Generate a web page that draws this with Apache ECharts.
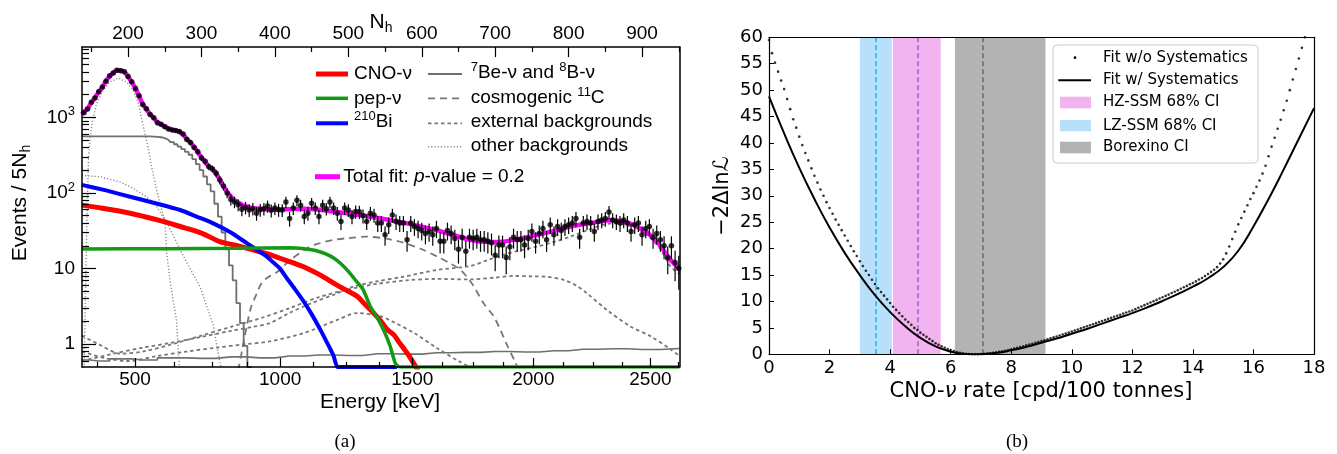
<!DOCTYPE html>
<html>
<head>
<meta charset="utf-8">
<title>Borexino CNO spectrum and likelihood</title>
<script src="https://cdn.jsdelivr.net/npm/echarts@6.0.0/dist/echarts.min.js"></script>
<style>
html,body{margin:0;padding:0;background:#ffffff;}
#chart{width:1337px;height:454px;}
</style>
</head>
<body>
<div id="chart"></div>
<script>
// ================= Panel (a): spectral fit =================
const energyTickLabels = [500, 1000, 1500, 2000, 2500];
const energyTickNh = [209.5, 407.2, 587.1, 752.0, 911.4];
const energyMinorNh = [158, 262.7, 314.1, 361.8, 451.7, 497.1, 542.5, 627.5, 669.8, 711.5, 793.3, 833.3, 872.8, 949.9];
const nhTickLabels = [200, 300, 400, 500, 600, 700, 800, 900];
const nhMinorTicks = [150, 250, 350, 450, 550, 650, 750, 850, 950];
const logMajorTicks = [1, 10, 100, 1000];
const logMinorTicks = [0.6,0.7,0.8,0.9,2,3,4,5,6,7,8,9,20,30,40,50,60,70,80,90,200,300,400,500,600,700,800,900,2000,3000,4000,5000,6000,7000,8000];

// data: events / 5 Nh, bins centred at Nh = 140, 145, ... 950
const dataVals = [
 1150,1290,1580,1800,2180,2520,3000,3550,3850,4200,
 4120,4000,3450,2950,2400,1920,1480,1300,1090,990,
 850,810,750,700,680,670,650,600,510,465,
 400,350,290,262,222,208,182,148,124,100,
 82,76,70,61,64,59.5,62,54,60,62,
 67,59,63,60,59.5,76,46,63,80,69,
 49,54,73,63,49,69,62,76,63,54,
 42,63,59.5,49,57,56.6,50,42,54,51,
 40,40,28,38,51,42,40,40,24,40,
 36,34,32,29,31,28,34,23,23,32,
 29,25,18,26,17,26,25,26,24,24,
 23,22,15,20.5,20.5,14,19.5,26,24,24,
 20.5,25,31,23,29,34,24,38,28,36,
 32,36,38,40,46,26,40,42,40,31,
 42,44,46,56,44,42,40,44,40,31,
 38,40,28,34,36,26,29,24,20,14,
 20,12,10
];
const errScale = 1.5;

const totalFit = [[137,1100],[140,1180],[145,1310],[150,1560],[155,1820],[160,2160],[165,2500],[170,3050],[175,3500],[180,3900],[185,4180],[190,4150],[195,3970],[200,3480],[205,2900],[210,2450],[215,1900],[220,1500],[225,1280],[230,1100],[235,980],[240,860],[245,800],[250,760],[255,715],[260,685],[265,665],[270,640],[275,590],[280,520],[285,460],[290,410],[295,345],[300,295],[305,255],[310,225],[315,205],[320,180],[325,150],[330,122],[335,103],[340,90],[345,80],[350,75],[355,70],[360,67],[370,63],[380,62],[393,60],[420,61],[440,62],[460,60],[490,55],[530,48.5],[575,40.5],[621,32],[666,24],[690,22.5],[711,22.7],[735,25],[757,27.8],[780,31.5],[802,35.8],[830,40],[857,43.5],[880,40.5],[900,33],[911,27.8],[925,20],[939,13],[951,10]];

const cnoNu = [[137,69],[160,64],[203,54],[240,44],[271,36],[300,29.5],[325,22.7],[350,20],[371,17.6],[390,15.6],[407,13.7],[425,11.9],[439,10.6],[462,8.2],[484,6.1],[500,5.0],[512,4.3],[521,3.5],[530,2.85],[543,2.1],[552,1.6],[562,1.33],[568,1.1],[575,0.89],[582,0.72],[589,0.56],[595,0.45]];
const pepNu = [[137,18.2],[250,18.3],[350,18.6],[420,18.8],[440,18.3],[450,17.7],[460,16.8],[470,15.5],[480,13.8],[490,11.6],[500,9.2],[510,7],[520,5.3],[530,3.15],[540,2.2],[550,1.4],[557,0.94],[564,0.56],[570,0.3],[580,0.05],[951,0.01]];
const bi210 = [[137,128],[170,108],[203,89],[240,72],[271,59.5],[295,48],[316,39.6],[340,30],[362,21.6],[376,17.5],[389,14.4],[398,12],[407,10],[416,7.5],[427,5.4],[439,3.7],[450,2.5],[462,1.55],[471,1.05],[480,0.7],[485,0.5],[490,0.3],[500,0.05],[566,0.01]];
const be7Nu = [[137,560],[180,560],[220,558],[240,552],[245,545],[250,530],[255,505],[260,470],[265,440],[270,410],[275,380],[280,350],[285,320],[290,280],[295,240],[300,200],[305,165],[310,130],[315,105],[320,72],[325,48.5],[330,30],[335,18],[340,11],[345,7],[350,3.5],[355,1.9],[360,0.95],[365,0.5],[370,0.4]];
const b8Nu = [[137,0.62],[160,0.6],[190,0.64],[220,0.62],[260,0.66],[300,0.65],[340,0.68],[380,0.66],[420,0.7],[460,0.72],[500,0.71],[540,0.75],[580,0.74],[620,0.77],[660,0.78],[700,0.8],[740,0.79],[780,0.82],[820,0.86],[860,0.87],[900,0.85],[951,0.88]];
const c11 = [[350,0.45],[356,0.9],[362,1.8],[368,3.2],[375,4.6],[382,6.5],[390,7.6],[403,9],[421,13],[444,18.6],[460,21.5],[480,23.9],[500,25.3],[525,26.4],[550,25],[575,22],[600,18],[621,14.4],[640,11.5],[653,9.6],[665,7],[671,5.8],[684,3.5],[698,2.33],[707,1.55],[716,0.98],[727,0.59],[732,0.45]];
const extTl = [[137,0.6],[180,0.75],[220,0.9],[260,1.05],[300,1.25],[340,1.5],[370,1.7],[393,1.9],[420,2.6],[450,3.5],[480,4.5],[507,5.8],[540,6.8],[575,7.8],[621,9.6],[666,10.8],[690,13],[711,15.2],[735,17.5],[757,19.5],[780,22.5],[802,26.4],[825,32],[847,38],[861,39.6],[875,38],[893,34],[910,26],[925,18],[939,10.6],[951,8.5]];
const extBi = [[137,1.3],[160,1.0],[190,0.75],[220,0.8],[260,1.0],[300,1.3],[340,1.7],[380,2.2],[420,3.0],[460,4.2],[500,5.3],[540,6.3],[580,7.0],[620,7.3],[666,7.2],[700,7.6],[725,8.0],[750,7.9],[770,7.8],[793,7.1],[810,6],[825,4.7],[852,2.85],[884,1.72],[912,1.27],[939,0.85],[951,0.7]];
const extK = [[137,0.8],[170,0.65],[200,0.6],[240,0.7],[280,0.8],[320,0.9],[360,1.0],[393,1.09],[439,1.4],[485,2.1],[512,2.58],[544,2.33],[560,2.0],[590,1.4],[620,0.9],[650,0.6],[680,0.42]];
const po210 = [[140,0.4],[142,5],[143.7,30],[146,270],[148,500],[151,830],[157,1500],[166,2280],[175,2930],[187,3300],[198,2930],[207,2280],[214,1530],[219,910],[223,610],[228,370],[232,222],[239,109],[244,70],[248,50],[250.3,44],[252.7,16],[257,7.1],[262,3.5],[266,2.1],[268.6,0.77],[271,0.4]];
const kr85 = [[137,170],[162,164],[189,140],[207,115],[225,89],[239,66],[253,40],[262,27],[272,17],[280,12],[287,9],[298,5.8],[307,3.2],[316,1.8],[321,0.94],[325,0.6],[328,0.42]];

// ================= Panel (b): likelihood profile =================
const fitNoSyst = [
 59.5,57.0,55.2,53.5,51.8,50.2,48.3,46.4,44.5,42.9,
 41.2,39.6,38.1,36.7,35.2,33.8,32.5,31.2,30.0,28.8,
 27.7,26.6,25.5,24.5,23.5,22.5,21.5,20.5,19.5,18.6,
 17.6,16.7,15.8,15.0,14.1,13.3,12.5,11.8,11.1,10.4,
 9.7,9.0,8.4,7.8,7.2,6.6,6.1,5.6,5.0,4.6,
 4.1,3.7,3.3,2.9,2.5,2.1,1.8,1.5,1.25,1.0,
 0.8,0.6,0.42,0.3,0.2,0.1,0.05,0.02,0.0,0.02,
 0.05,0.08,0.12,0.2,0.28,0.37,0.46,0.56,0.68,0.8,
 0.93,1.08,1.22,1.38,1.53,1.68,1.84,2.0,2.16,2.32,
 2.5,2.67,2.85,3.02,3.2,3.38,3.56,3.74,3.92,4.1,
 4.3,4.5,4.7,4.9,5.1,5.3,5.5,5.7,5.9,6.1,
 6.3,6.5,6.7,6.9,7.1,7.3,7.5,7.7,7.9,8.1,
 8.3,8.55,8.8,9.05,9.3,9.55,9.8,10.05,10.3,10.55,
 10.8,11.05,11.3,11.6,11.85,12.1,12.4,12.7,12.95,13.25,
 13.5,13.8,14.15,14.45,14.8,15.2,15.6,16.0,16.5,17.2,
 18.0,19.1,20.4,21.8,23.2,24.6,25.8,27.0,28.2,29.4,
 30.5,31.7,32.9,34.2,35.7,37.5,39.3,41.0,42.7,44.4,
 46.2,48.0,50.0,52.0,54.0,56.0,58.0,60.0
];
const scanStep = 0.1;
const rateKnots = [0,0.5,1,1.5,2,2.5,3,3.5,4,4.5,5,5.5,6,6.5,6.8,7,7.5,8,8.5,9,9.5,10,10.5,11,11.5,12,12.5,13,13.5,14,14.5,15,15.5,16,16.5,17,17.5,18];
const fitSyst = [48.8,41.8,35.3,29.4,24,19.2,15,11.2,8,5.3,3.1,1.5,0.5,0.06,0,0.03,0.25,0.75,1.4,2.2,3.0,3.9,4.8,5.8,6.8,7.8,8.9,10.1,11.4,12.8,14.4,16.5,19.6,24.2,29.4,35,40.8,46.6];
const bandLZ = [3.0, 4.06], lzCentral = 3.52;
const bandHZ = [4.09, 5.67], hzCentral = 4.9;
const bandBX = [6.14, 9.13], bxCentral = 7.06;

// ================= build =================
const FA = '"Liberation Sans", Arial, Helvetica, sans-serif';
const FD = '"DejaVu Sans", sans-serif';
const FS = '"Liberation Serif", "Times New Roman", serif';
const nhMin = 137.3, nhMax = 951;
const yMin = 0.5, yMax = 8500;

const dataNh = dataVals.map((_, i) => 140 + 5 * i);
const dataPts = dataVals.map((v, i) => [dataNh[i], v]);
const errBars = dataVals.map((v, i) => {
  const e = errScale * Math.sqrt(v);
  return [dataNh[i], Math.max(v - e, 0.01), v + e];
});
const noSystPts = fitNoSyst.map((v, i) => [Math.round(i * scanStep * 10) / 10, v]);
const systPts = fitSyst.map((v, i) => [rateKnots[i], v]);
// like the original histogram drawing, contents below the axis minimum are drawn on the floor
const floorAt = arr => arr.map(p => [p[0], Math.max(p[1], yMin)]);

function nearestLabel(v) {
  let best = 0, bd = Infinity;
  energyTickNh.forEach((t, i) => { const d = Math.abs(t - v); if (d < bd) { bd = d; best = i; } });
  return String(energyTickLabels[best]);
}

function comp(name, data, color, width, dash, z, step, smooth) {
  return {
    name, type: 'line', xAxisIndex: 0, yAxisIndex: 0, data,
    showSymbol: false, symbol: 'none', step: step || false, smooth: smooth || false, z: z || 2,
    lineStyle: { color, width, type: dash || 'solid', cap: 'butt' },
    clip: true, silent: true
  };
}

const black = '#000';
const grayS = '#6f6f6f', grayD = '#777777', grayO = '#8a8a8a';

const option = {
  animation: false,
  backgroundColor: '#ffffff',
  grid: [
    { left: 82, top: 47, right: 657.5, bottom: 87, containLabel: false },
    { left: 769, top: 37.3, right: 23, bottom: 99.7, containLabel: false }
  ],
  xAxis: [
    { gridIndex: 0, type: 'value', min: nhMin, max: nhMax, position: 'bottom', z: 10,
      axisLine: { show: true, onZero: false, lineStyle: { color: black, width: 1.5 } },
      splitLine: { show: false },
      axisTick: { show: true, inside: true, length: 9, customValues: energyTickNh, lineStyle: { color: black, width: 1.2 } },
      axisLabel: { customValues: energyTickNh, formatter: nearestLabel, fontFamily: FA, fontSize: 19, color: black, margin: 3 } },
    { gridIndex: 0, type: 'value', min: nhMin, max: nhMax, position: 'bottom', z: 10,
      axisLine: { show: false }, splitLine: { show: false },
      axisTick: { show: true, inside: true, length: 5, customValues: energyMinorNh, lineStyle: { color: black, width: 1.2 } },
      axisLabel: { show: false } },
    { gridIndex: 0, type: 'value', min: nhMin, max: nhMax, position: 'top', z: 10,
      axisLine: { show: true, onZero: false, lineStyle: { color: black, width: 1.5 } },
      splitLine: { show: false },
      axisTick: { show: true, inside: true, length: 10, customValues: nhTickLabels, lineStyle: { color: black, width: 1.2 } },
      axisLabel: { customValues: nhTickLabels, formatter: v => String(Math.round(v)), fontFamily: FA, fontSize: 19, color: black, margin: 4 } },
    { gridIndex: 0, type: 'value', min: nhMin, max: nhMax, position: 'top', z: 10,
      axisLine: { show: false }, splitLine: { show: false },
      axisTick: { show: true, inside: true, length: 5, customValues: nhMinorTicks, lineStyle: { color: black, width: 1.2 } },
      axisLabel: { show: false } },
    { gridIndex: 1, type: 'value', min: 0, max: 18, interval: 2, position: 'bottom', z: 10,
      axisLine: { show: true, onZero: false, lineStyle: { color: black, width: 1.2 } },
      splitLine: { show: false },
      axisTick: { show: true, inside: true, length: 5, lineStyle: { color: black, width: 1 } },
      axisLabel: { fontFamily: FD, fontSize: 18, color: black, margin: 5 } },
    { gridIndex: 1, type: 'value', min: 0, max: 18, position: 'top', z: 10,
      axisLine: { show: true, onZero: false, lineStyle: { color: black, width: 1.2 } },
      splitLine: { show: false }, axisTick: { show: false }, axisLabel: { show: false } }
  ],
  yAxis: [
    { gridIndex: 0, type: 'log', logBase: 10, min: yMin, max: yMax, position: 'left', z: 10,
      axisLine: { show: true, onZero: false, lineStyle: { color: black, width: 1.5 } },
      splitLine: { show: false }, minorTick: { show: false },
      axisTick: { show: true, inside: true, length: 14, customValues: logMajorTicks, lineStyle: { color: black, width: 1.2 } },
      axisLabel: { customValues: logMajorTicks, fontFamily: FA, fontSize: 19, color: black, margin: 7, lineHeight: 24,
        formatter: v => { const p = Math.round(Math.log10(v)); return p >= 2 ? '10{sup|' + p + '}' : String(Math.round(v)); },
        rich: { sup: { fontFamily: FA, fontSize: 13, lineHeight: 12, verticalAlign: 'top', color: black } } } },
    { gridIndex: 0, type: 'log', logBase: 10, min: yMin, max: yMax, position: 'left', z: 10,
      axisLine: { show: false }, splitLine: { show: false },
      axisTick: { show: true, inside: true, length: 7, customValues: logMinorTicks, lineStyle: { color: black, width: 1.2 } },
      axisLabel: { show: false } },
    { gridIndex: 0, type: 'log', logBase: 10, min: yMin, max: yMax, position: 'right', z: 10,
      axisLine: { show: true, onZero: false, lineStyle: { color: black, width: 1.5 } },
      splitLine: { show: false }, axisTick: { show: false }, axisLabel: { show: false } },
    { gridIndex: 1, type: 'value', min: 0, max: 60, interval: 5, position: 'left', z: 10,
      axisLine: { show: true, onZero: false, lineStyle: { color: black, width: 1.2 } },
      splitLine: { show: false },
      axisTick: { show: true, inside: true, length: 5, lineStyle: { color: black, width: 1 } },
      axisLabel: { fontFamily: FD, fontSize: 18, color: black, margin: 6 } },
    { gridIndex: 1, type: 'value', min: 0, max: 60, position: 'right', z: 10,
      axisLine: { show: true, onZero: false, lineStyle: { color: black, width: 1.2 } },
      splitLine: { show: false }, axisTick: { show: false }, axisLabel: { show: false } }
  ],
  series: [
    comp('8B', b8Nu, grayS, 1.6, 'solid', 2, 'middle'),
    comp('ext Tl', extTl, grayD, 1.8, [3.5, 3], 2, false, 0.3),
    comp('ext Bi', extBi, grayD, 1.8, [3.5, 3], 2, false, 0.3),
    comp('ext K', extK, grayD, 1.8, [3.5, 3], 2, false, 0.3),
    comp('11C', c11, grayD, 1.8, [7, 5], 2, false, 0.3),
    comp('210Po', po210, grayO, 1.4, [1.2, 2], 2),
    comp('85Kr', kr85, grayO, 1.4, [1.2, 2], 2),
    comp('7Be', be7Nu, grayS, 1.8, 'solid', 3, 'middle'),
    comp('CNO', cnoNu, '#ff0000', 5, 'solid', 4, false, 0.3),
    comp('210Bi', floorAt(bi210), '#0000ff', 4, 'solid', 5, false, 0.2),
    comp('pep', floorAt(pepNu), '#129a12', 3.5, 'solid', 5.5, false, 0.2),
    comp('Total', totalFit, '#ff00ff', 4.5, 'solid', 6, false, 0.25),
    { name: 'errors', type: 'custom', xAxisIndex: 0, yAxisIndex: 0, data: errBars, z: 7, silent: true, clip: true,
      encode: { x: 0, y: [1, 2] },
      renderItem: (params, api) => {
        const a = api.coord([api.value(0), api.value(1)]);
        const b = api.coord([api.value(0), api.value(2)]);
        return { type: 'line', shape: { x1: a[0], y1: a[1], x2: b[0], y2: b[1] }, style: { stroke: black, lineWidth: 1.2 } };
      } },
    { name: 'Data', type: 'scatter', xAxisIndex: 0, yAxisIndex: 0, data: dataPts, z: 8, silent: true,
      symbol: 'circle', symbolSize: 5.5, itemStyle: { color: black }, clip: true },

    // panel (b)
    { name: 'bands', type: 'line', xAxisIndex: 4, yAxisIndex: 3, data: [], z: 1, silent: true,
      markArea: { silent: true, label: { show: false },
        data: [
          [{ xAxis: bandLZ[0], itemStyle: { color: '#b8e0fa', opacity: 1 } }, { xAxis: bandLZ[1] }],
          [{ xAxis: bandHZ[0], itemStyle: { color: '#f2b4f0', opacity: 1 } }, { xAxis: bandHZ[1] }],
          [{ xAxis: bandBX[0], itemStyle: { color: '#b3b3b3', opacity: 1 } }, { xAxis: bandBX[1] }]
        ] },
      markLine: { silent: true, symbol: ['none', 'none'], label: { show: false },
        data: [
          { xAxis: lzCentral, lineStyle: { color: '#1ab4e8', type: [5, 3], width: 1.5 } },
          { xAxis: hzCentral, lineStyle: { color: '#a85ccc', type: [5, 3], width: 1.5 } },
          { xAxis: bxCentral, lineStyle: { color: '#6a6a6a', type: [5, 3], width: 1.5 } }
        ] } },
    { name: 'Fit w/ Systematics', type: 'line', xAxisIndex: 4, yAxisIndex: 3, data: systPts, z: 5,
      showSymbol: false, symbol: 'none', smooth: 0.5, silent: true,
      lineStyle: { color: black, width: 2 } },
    { name: 'Fit w/o Systematics', type: 'scatter', xAxisIndex: 4, yAxisIndex: 3, data: noSystPts, z: 6, silent: true,
      symbol: 'circle', symbolSize: 2.6, itemStyle: { color: black }, clip: true }
  ],
  graphic: { elements: [
    // panel (a) axis titles
    { type: 'text', x: 380, y: 402, silent: true, style: { text: 'Energy [keV]', fontFamily: FA, fontSize: 21, fill: black, align: 'center', verticalAlign: 'middle' } },
    { type: 'text', x: 381, y: 22, silent: true, style: { text: 'N{sub|h}', fontFamily: FA, fontSize: 21, lineHeight: 26, fill: black, align: 'center', verticalAlign: 'middle',
        rich: { sub: { fontFamily: FA, fontSize: 14, lineHeight: 12, verticalAlign: 'bottom', fill: black } } } },
    { type: 'text', x: 20, y: 203, rotation: Math.PI / 2, silent: true, style: { text: 'Events / 5N{sub|h}', fontFamily: FA, fontSize: 21, lineHeight: 26, fill: black, align: 'center', verticalAlign: 'middle',
        rich: { sub: { fontFamily: FA, fontSize: 14, lineHeight: 12, verticalAlign: 'bottom', fill: black } } } },
    // panel (a) legend
    { type: 'line', silent: true, shape: { x1: 316, y1: 74, x2: 348, y2: 74 }, style: { stroke: '#ff0000', lineWidth: 5 } },
    { type: 'line', silent: true, shape: { x1: 316, y1: 98.3, x2: 348, y2: 98.3 }, style: { stroke: '#129a12', lineWidth: 3.5 } },
    { type: 'line', silent: true, shape: { x1: 316, y1: 123.3, x2: 348, y2: 123.3 }, style: { stroke: '#0000ff', lineWidth: 4 } },
    { type: 'line', silent: true, shape: { x1: 428, y1: 74, x2: 462, y2: 74 }, style: { stroke: grayS, lineWidth: 1.8 } },
    { type: 'line', silent: true, shape: { x1: 428, y1: 98.3, x2: 462, y2: 98.3 }, style: { stroke: grayD, lineWidth: 1.8, lineDash: [7, 5] } },
    { type: 'line', silent: true, shape: { x1: 428, y1: 123.3, x2: 462, y2: 123.3 }, style: { stroke: grayD, lineWidth: 1.8, lineDash: [3.5, 3] } },
    { type: 'line', silent: true, shape: { x1: 428, y1: 146.7, x2: 462, y2: 146.7 }, style: { stroke: grayO, lineWidth: 1.4, lineDash: [1.2, 2] } },
    { type: 'line', silent: true, shape: { x1: 315, y1: 176.7, x2: 340, y2: 176.7 }, style: { stroke: '#ff00ff', lineWidth: 5 } },
    { type: 'text', x: 354, y: 74, silent: true, style: { text: 'CNO-ν', fontFamily: FA, fontSize: 19, fill: black, verticalAlign: 'middle' } },
    { type: 'text', x: 354, y: 98.3, silent: true, style: { text: 'pep-ν', fontFamily: FA, fontSize: 19, fill: black, verticalAlign: 'middle' } },
    { type: 'text', x: 354, y: 122, silent: true, style: { text: '{sup|210}Bi', fontFamily: FA, fontSize: 19, lineHeight: 24, fill: black, verticalAlign: 'middle',
        rich: { sup: { fontFamily: FA, fontSize: 13, lineHeight: 12, verticalAlign: 'top', fill: black } } } },
    { type: 'text', x: 470.7, y: 73, silent: true, style: { text: '{sup|7}Be-ν and {sup|8}B-ν', fontFamily: FA, fontSize: 19, lineHeight: 24, fill: black, verticalAlign: 'middle',
        rich: { sup: { fontFamily: FA, fontSize: 13, lineHeight: 12, verticalAlign: 'top', fill: black } } } },
    { type: 'text', x: 470.7, y: 97.5, silent: true, style: { text: 'cosmogenic {sup|11}C', fontFamily: FA, fontSize: 19, lineHeight: 24, fill: black, verticalAlign: 'middle',
        rich: { sup: { fontFamily: FA, fontSize: 13, lineHeight: 12, verticalAlign: 'top', fill: black } } } },
    { type: 'text', x: 470.7, y: 122, silent: true, style: { text: 'external backgrounds', fontFamily: FA, fontSize: 19, fill: black, verticalAlign: 'middle' } },
    { type: 'text', x: 470.7, y: 146, silent: true, style: { text: 'other backgrounds', fontFamily: FA, fontSize: 19, fill: black, verticalAlign: 'middle' } },
    { type: 'text', x: 343.3, y: 176.7, silent: true, style: { text: 'Total fit: {it|p}-value = 0.2', fontFamily: FA, fontSize: 19, fill: black, verticalAlign: 'middle',
        rich: { it: { fontFamily: FA, fontSize: 19, fontStyle: 'italic', fill: black } } } },
    // panel (b) axis titles
    { type: 'text', x: 1041, y: 392, silent: true, style: { text: 'CNO-{i|ν} rate [cpd/100 tonnes]', fontFamily: FD, fontSize: 21, fill: black, align: 'center', verticalAlign: 'middle',
        rich: { i: { fontFamily: FD, fontSize: 21, fontStyle: 'italic', fill: black } } } },
    { type: 'text', x: 723, y: 196, rotation: Math.PI / 2, silent: true, style: { text: '−2Δlnℒ', fontFamily: FD, fontSize: 21, fill: black, align: 'center', verticalAlign: 'middle' } },
    // panel (b) legend
    { type: 'rect', silent: true, shape: { x: 1053, y: 45, width: 205, height: 118, r: 4 }, style: { fill: 'rgba(255,255,255,0.8)', stroke: '#cccccc', lineWidth: 1 }, z: 20 },
    { type: 'circle', silent: true, shape: { cx: 1075, cy: 57.7, r: 1.4 }, style: { fill: black }, z: 21 },
    { type: 'line', silent: true, shape: { x1: 1058.3, y1: 80.3, x2: 1091, y2: 80.3 }, style: { stroke: black, lineWidth: 2 }, z: 21 },
    { type: 'rect', silent: true, shape: { x: 1060, y: 96.7, width: 31, height: 11.6 }, style: { fill: '#f2b4f0' }, z: 21 },
    { type: 'rect', silent: true, shape: { x: 1060, y: 120, width: 31, height: 11.3 }, style: { fill: '#b8e0fa' }, z: 21 },
    { type: 'rect', silent: true, shape: { x: 1060, y: 141.7, width: 31, height: 11.6 }, style: { fill: '#b3b3b3' }, z: 21 },
    { type: 'text', x: 1103, y: 57.8, silent: true, z: 21, style: { text: 'Fit w/o Systematics', fontFamily: FD, fontSize: 15, fill: black, verticalAlign: 'middle' } },
    { type: 'text', x: 1103, y: 80.3, silent: true, z: 21, style: { text: 'Fit w/ Systematics', fontFamily: FD, fontSize: 15, fill: black, verticalAlign: 'middle' } },
    { type: 'text', x: 1103, y: 102.5, silent: true, z: 21, style: { text: 'HZ-SSM 68% CI', fontFamily: FD, fontSize: 15, fill: black, verticalAlign: 'middle' } },
    { type: 'text', x: 1103, y: 125.8, silent: true, z: 21, style: { text: 'LZ-SSM 68% CI', fontFamily: FD, fontSize: 15, fill: black, verticalAlign: 'middle' } },
    { type: 'text', x: 1103, y: 147.5, silent: true, z: 21, style: { text: 'Borexino CI', fontFamily: FD, fontSize: 15, fill: black, verticalAlign: 'middle' } },
    // panel captions
    { type: 'text', x: 345, y: 442, silent: true, style: { text: '(a)', fontFamily: FS, fontSize: 19, fill: black, align: 'center', verticalAlign: 'middle' } },
    { type: 'text', x: 1017, y: 442, silent: true, style: { text: '(b)', fontFamily: FS, fontSize: 19, fill: black, align: 'center', verticalAlign: 'middle' } }
  ] }
};

const chart = echarts.init(document.getElementById('chart'), null, { renderer: 'canvas', width: 1337, height: 454 });
chart.setOption(option);
</script>
</body>
</html>
